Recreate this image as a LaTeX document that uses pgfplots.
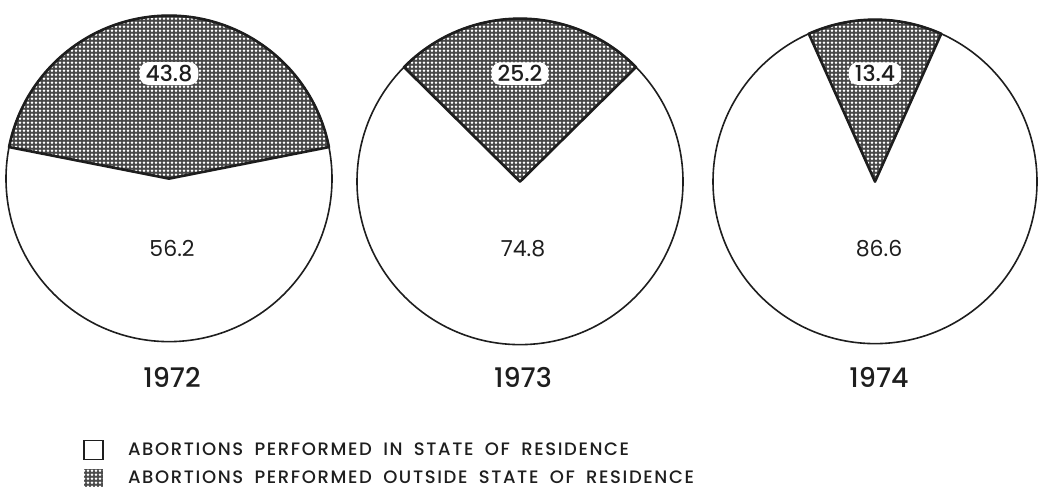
\documentclass[border=0pt]{standalone}
\usepackage{pgfplots}
\pgfplotsset{compat=1.18}
\usetikzlibrary{patterns.meta}
\usepackage{fontspec}
\setmainfont{Poppins}
\newfontfamily\medfont{Poppins Medium}
\newfontfamily\legfont[LetterSpace=9,WordSpace=1.8]{Poppins Medium}
\definecolor{ink}{HTML}{1E1E1E}

% #1 cx, #2 cy, #3 radius (canvas), #4 outside-state share, #5 in-state share, #6 year, #7 label x
\newcommand{\pie}[7]{%
  \fill[white] (axis cs:#1,#2) circle[radius=#3];
  \fill[black!72] (axis cs:#1,#2) -- ++({90-1.8*#4}:#3) arc[start angle={90-1.8*#4}, end angle={90+1.8*#4}, radius=#3] -- cycle;
  \fill[pattern={Dots[distance=2pt,radius=0.68pt]}, pattern color=white] (axis cs:#1,#2) -- ++({90-1.8*#4}:#3) arc[start angle={90-1.8*#4}, end angle={90+1.8*#4}, radius=#3] -- cycle;
  \draw[ink, line width=0.8pt] (axis cs:#1,#2) circle[radius=#3];
  \draw[ink, line width=1.3pt, line join=round] (axis cs:#1,#2) -- ++({90-1.8*#4}:#3) arc[start angle={90-1.8*#4}, end angle={90+1.8*#4}, radius=#3] -- cycle;
  \node[fill=white, rounded corners=4.5pt, inner xsep=3pt, inner ysep=1.5pt, text=ink, font=\medfont\fontsize{11}{12}\selectfont] at (axis cs:#1,66) {#4};
  \node[text=ink, font=\fontsize{11}{12}\selectfont] at (axis cs:#7,241) {#5};
  \node[text=ink, font=\medfont\fontsize{13.5}{15}\selectfont] at (axis cs:#7,370) {#6};
}

\begin{document}
\begin{tikzpicture}
\begin{axis}[
  x=0.5pt, y=0.5pt, y dir=reverse,
  xmin=0, xmax=1048, ymin=0, ymax=480,
  hide axis, clip=false, scale only axis,
]
\path (axis cs:0,0) rectangle (axis cs:1048,480);
\pie{169}{171}{81.5pt}{43.8}{56.2}{1972}{172}
\pie{520}{174}{81.5pt}{25.2}{74.8}{1973}{523}
\pie{875}{174}{81pt}{13.4}{86.6}{1974}{879}
% legend
\draw[ink, line width=0.6pt] (axis cs:84,433) rectangle (axis cs:103,452);
\fill[black!70] (axis cs:84,461) rectangle (axis cs:103,479);
\fill[pattern={Dots[distance=2pt,radius=0.68pt]}, pattern color=white] (axis cs:84,461) rectangle (axis cs:103,479);
\node[anchor=west, text=ink, font=\legfont\fontsize{9}{10}\selectfont] at (axis cs:121,442) {ABORTIONS PERFORMED IN STATE OF RESIDENCE};
\node[anchor=west, text=ink, font=\legfont\fontsize{9}{10}\selectfont] at (axis cs:121,470) {ABORTIONS PERFORMED OUTSIDE STATE OF RESIDENCE};
\end{axis}
\end{tikzpicture}
\end{document}
